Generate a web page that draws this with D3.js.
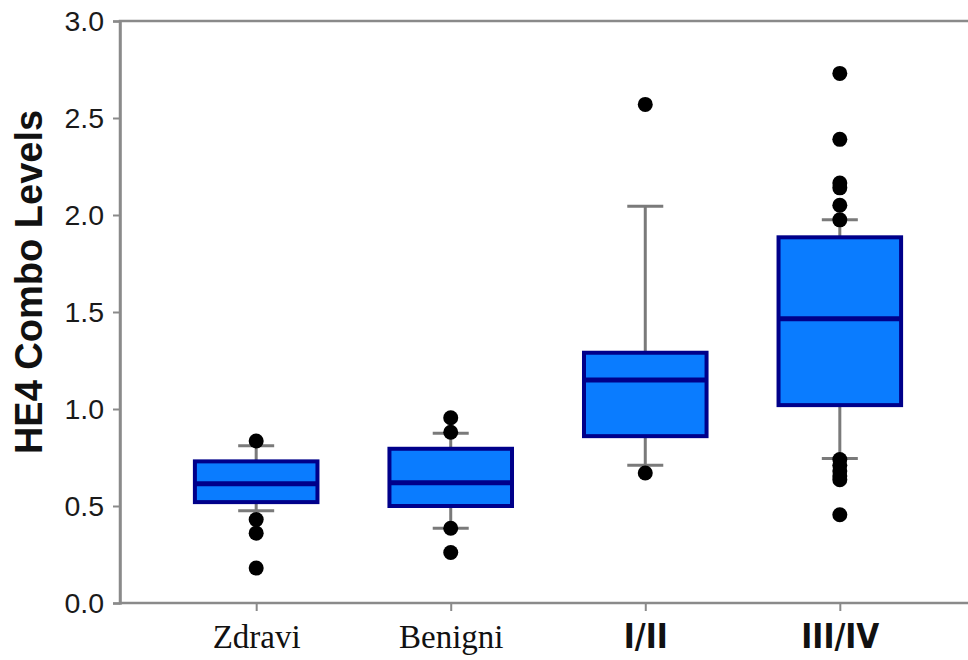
<!DOCTYPE html>
<html>
<head>
<meta charset="utf-8">
<script src="https://cdn.jsdelivr.net/npm/d3@7"></script>
<style>
  html, body { margin: 0; padding: 0; background: #fff; }
  svg { display: block; }
</style>
</head>
<body>
<script>
// Group names and box statistics
var categories = ["Zdravi", "Benigni", "I/II", "III/IV"];
var whiskerLow = [0.475, 0.385, 0.71, 0.745];
var q1 = [0.52, 0.50, 0.86, 1.02];
var median = [0.615, 0.62, 1.15, 1.465];
var q3 = [0.73, 0.795, 1.29, 1.885];
var whiskerHigh = [0.81, 0.875, 2.045, 1.975];
var outliers = [
	[0.835, 0.43, 0.36, 0.18],
	[0.955, 0.88, 0.385, 0.26],
	[2.57, 0.67],
	[2.73, 2.39, 2.165, 2.14, 2.05, 1.975, 0.74, 0.71, 0.68, 0.655, 0.635, 0.455]
];
var yTicks = [0, 0.5, 1, 1.5, 2, 2.5, 3];

var width = 968,
	height = 660;

// plot area (right edge falls just past the canvas)
var plotLeft = 120, plotTop = 21, plotBottom = 603, plotRight = 976;

var svg = d3.select("body").append("svg")
	.attr("width", width)
	.attr("height", height);

var x = d3.scalePoint()
	.domain(categories)
	.range([plotLeft, plotRight])
	.padding(0.7);

var y = d3.scaleLinear()
	.domain([0, 3])
	.range([plotBottom, plotTop]);

var boxWidth = x.step() * 0.63;
var capWidth = 36;

// frame
svg.append("rect")
	.attr("x", plotLeft)
	.attr("y", plotTop)
	.attr("width", plotRight - plotLeft + 10)
	.attr("height", plotBottom - plotTop)
	.attr("fill", "none")
	.attr("stroke", "#8a8a8a")
	.attr("stroke-width", 2.5);

// y axis
var yAxis = svg.append("g")
	.attr("transform", "translate(" + plotLeft + ",0)")
	.call(d3.axisLeft(y).tickValues(yTicks).tickFormat(d3.format(".1f")).tickSize(7).tickPadding(9));
yAxis.select(".domain").attr("stroke", "#8a8a8a").attr("stroke-width", 2.5);
yAxis.selectAll(".tick line").attr("stroke", "#8a8a8a").attr("stroke-width", 2);
yAxis.selectAll(".tick text")
	.attr("fill", "#1a1a1a")
	.style("font-family", "'Liberation Sans', Arial, sans-serif")
	.style("font-size", "28.5px");

// x axis
var xAxis = svg.append("g")
	.attr("transform", "translate(0," + plotBottom + ")")
	.call(d3.axisBottom(x).tickSize(8).tickPadding(14));
xAxis.select(".domain").remove();
xAxis.selectAll(".tick line").attr("stroke", "#8a8a8a").attr("stroke-width", 2);
xAxis.selectAll(".tick text")
	.attr("fill", "#111")
	.style("font-family", function(d, i) { return i < 2 ? "'Liberation Serif', 'Times New Roman', serif" : "'DejaVu Sans Condensed', 'Liberation Sans', Arial, sans-serif"; })
	.style("font-weight", function(d, i) { return i < 2 ? "normal" : "bold"; })
	.style("font-size", function(d, i) { return i < 2 ? "33px" : "33px"; });

// y axis title
svg.append("text")
	.attr("transform", "translate(42,282) rotate(-90)")
	.attr("text-anchor", "middle")
	.attr("fill", "#111")
	.style("font-family", "'Liberation Sans', Arial, sans-serif")
	.style("font-weight", "bold")
	.style("font-size", "38px")
	.text("HE4 Combo Levels");

var groups = svg.selectAll("g.box")
	.data(categories)
	.enter().append("g")
	.attr("class", "box");

// whiskers
groups.append("line")
	.attr("x1", function(d) { return x(d); })
	.attr("x2", function(d) { return x(d); })
	.attr("y1", function(d, i) { return y(whiskerLow[i]); })
	.attr("y2", function(d, i) { return y(whiskerHigh[i]); })
	.attr("stroke", "#7a7a7a")
	.attr("stroke-width", 3);

groups.selectAll("line.cap")
	.data(function(d, i) { return [[d, whiskerLow[i]], [d, whiskerHigh[i]]]; })
	.enter().append("line")
	.attr("class", "cap")
	.attr("x1", function(d) { return x(d[0]) - capWidth / 2; })
	.attr("x2", function(d) { return x(d[0]) + capWidth / 2; })
	.attr("y1", function(d) { return y(d[1]); })
	.attr("y2", function(d) { return y(d[1]); })
	.attr("stroke", "#7a7a7a")
	.attr("stroke-width", 3);

// boxes
groups.append("rect")
	.attr("x", function(d) { return x(d) - boxWidth / 2; })
	.attr("y", function(d, i) { return y(q3[i]); })
	.attr("width", boxWidth)
	.attr("height", function(d, i) { return y(q1[i]) - y(q3[i]); })
	.attr("fill", "#0a7cff")
	.attr("stroke", "#00008a")
	.attr("stroke-width", 4);

groups.append("line")
	.attr("x1", function(d) { return x(d) - boxWidth / 2; })
	.attr("x2", function(d) { return x(d) + boxWidth / 2; })
	.attr("y1", function(d, i) { return y(median[i]); })
	.attr("y2", function(d, i) { return y(median[i]); })
	.attr("stroke", "#00008a")
	.attr("stroke-width", 5);

// outlier dots
groups.selectAll("circle")
	.data(function(d, i) { return outliers[i].map(function(v) { return [d, v]; }); })
	.enter().append("circle")
	.attr("cx", function(d) { return x(d[0]); })
	.attr("cy", function(d) { return y(d[1]); })
	.attr("r", 7.5)
	.attr("fill", "#000");
</script>
</body>
</html>
